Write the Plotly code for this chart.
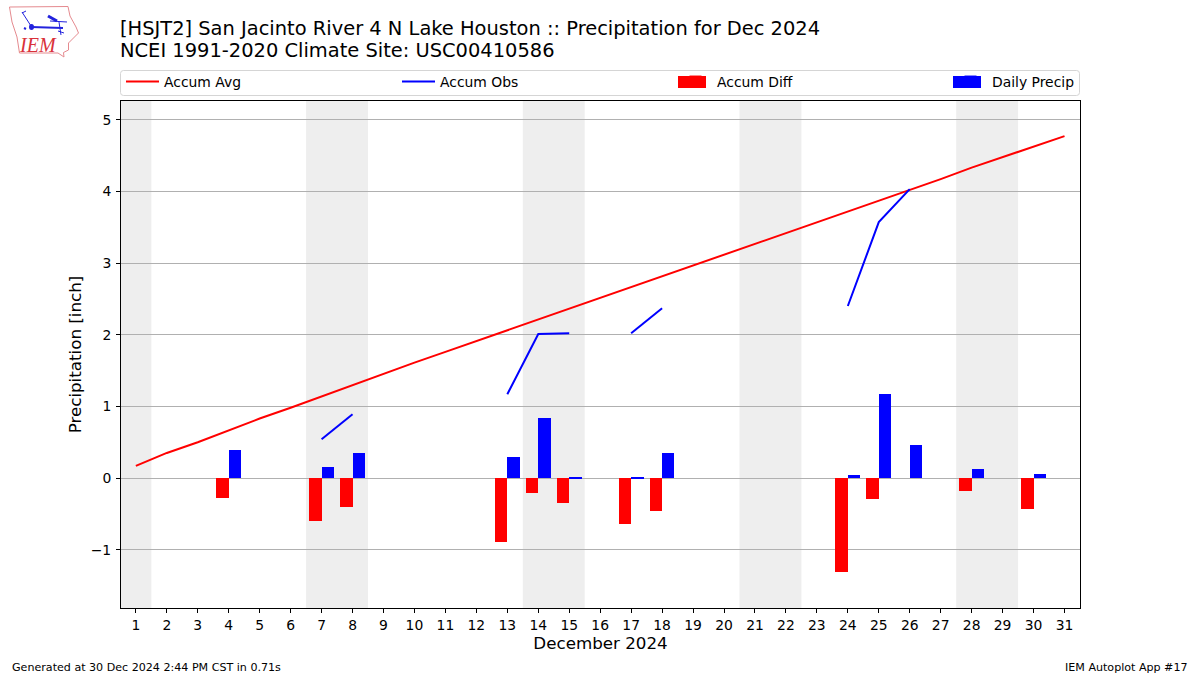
import plotly.graph_objects as go

FONT = "DejaVu Sans"
W, H = 1200, 675
L, R, T, B = 121, 1080, 101, 608

days = list(range(1, 32))
tick_labels = [str(d) for d in days]
accum_avg = [0.17, 0.35, 0.50, 0.67, 0.83, 0.98, 1.14, 1.30, 1.45, 1.61, 1.76, 1.91, 2.06, 2.22, 2.37, 2.52,
             2.67, 2.82, 2.97, 3.12, 3.26, 3.41, 3.56, 3.71, 3.87, 4.02, 4.17, 4.33, 4.48, 4.62, 4.77]
obs_days = [4, 7, 8, 13, 14, 15, 17, 18, 24, 25, 26, 28, 30]
accum_obs_values = [0.39, 0.54, 0.89, 1.17, 2.01, 2.02, 2.02, 2.37, 2.40, 3.57, 4.03, 4.15, 4.20]
accum_diff_values = [-0.275, -0.60, -0.41, -0.89, -0.205, -0.345, -0.64, -0.455, -1.31, -0.29, 0.0, -0.18, -0.43]
daily_precip = [0.39, 0.15, 0.35, 0.29, 0.84, 0.01, 0.01, 0.35, 0.04, 1.17, 0.46, 0.12, 0.05]
weekend_spans = [(0.5, 1.5), (6.5, 8.5), (13.5, 15.5), (20.5, 22.5), (27.5, 29.5)]

obs_lookup = dict(zip(obs_days, accum_obs_values))
accum_obs = [obs_lookup.get(d) for d in days]


def px(x):
    return (x - L) / (R - L)


def py(y):
    return (B - y) / (B - T)


def path(points, close=False):
    s = "M" + " L".join(f"{px(x):.5f},{py(y):.5f}" for x, y in points)
    return s + (" Z" if close else "")


def paper_shape(d, **kw):
    return dict(type="path", xref="paper", yref="paper", path=d, **kw)


fig = go.Figure()
fig.add_trace(go.Scatter(x=days, y=accum_avg, mode="lines", name="Accum Avg", legend="legend", showlegend=True,
                         line=dict(color="#ff0000", width=2)))
fig.add_trace(go.Scatter(x=days, y=accum_obs, mode="lines", name="Accum Obs", legend="legend2", showlegend=True,
                         line=dict(color="#0000ff", width=2), connectgaps=False))
fig.add_trace(go.Bar(x=obs_days, y=accum_diff_values, name="Accum Diff", width=0.4, offset=-0.4, legend="legend3",
                     showlegend=True, marker=dict(color="#ff0000", line=dict(width=0))))
fig.add_trace(go.Bar(x=obs_days, y=daily_precip, name="Daily Precip", width=0.4, offset=0, legend="legend4",
                     showlegend=True, marker=dict(color="#0000ff", line=dict(width=0))))

shapes = [dict(type="rect", xref="x", yref="paper", x0=a, x1=b, y0=0, y1=1, layer="below",
               fillcolor="#eeeeee", line=dict(width=0)) for a, b in weekend_spans]

# rounded legend frame
lx0, lx1, ly0, ly1, r = 120.5, 1079.5, 70.5, 95.5, 3
frame = (f"M{px(lx0 + r):.5f},{py(ly0):.5f} L{px(lx1 - r):.5f},{py(ly0):.5f} "
         f"Q{px(lx1):.5f},{py(ly0):.5f} {px(lx1):.5f},{py(ly0 + r):.5f} "
         f"L{px(lx1):.5f},{py(ly1 - r):.5f} Q{px(lx1):.5f},{py(ly1):.5f} {px(lx1 - r):.5f},{py(ly1):.5f} "
         f"L{px(lx0 + r):.5f},{py(ly1):.5f} Q{px(lx0):.5f},{py(ly1):.5f} {px(lx0):.5f},{py(ly1 - r):.5f} "
         f"L{px(lx0):.5f},{py(ly0 + r):.5f} Q{px(lx0):.5f},{py(ly0):.5f} {px(lx0 + r):.5f},{py(ly0):.5f} Z")
shapes.append(paper_shape(frame, line=dict(color="#d5d5d5", width=1), layer="above"))

# wide legend swatches for the two bar series
for x0, x1, colour in [(678, 706, "#ff0000"), (953, 981, "#0000ff")]:
    shapes.append(dict(type="rect", xref="paper", yref="paper", x0=px(x0), x1=px(x1), y0=py(88), y1=py(76),
                       fillcolor=colour, line=dict(width=0), layer="above"))

# IEM logo
iowa = [(9.5, 7), (68, 6.5), (70, 16), (76, 27), (78.5, 33), (68.5, 43), (68.5, 50), (63.5, 52.5),
        (64, 57), (58, 53), (19.5, 53), (17, 37), (12, 22)]
shapes.append(paper_shape(path(iowa, True), line=dict(color="#e58a8f", width=1), layer="above"))
blue = "#2222dd"
for pts, w in [([(31, 27), (63, 28)], 2), ([(22, 12), (31, 26)], 1), ([(48, 16), (57, 21)], 3),
               ([(50, 21), (67, 22)], 1), ([(59, 22), (61, 35)], 1), ([(58, 31), (64, 33)], 1),
               ([(22, 13), (26, 11)], 1), ([(24, 28), (26, 29)], 2)]:
    shapes.append(paper_shape(path(pts), line=dict(color=blue, width=w), layer="above"))
shapes.append(dict(type="circle", xref="paper", yref="paper", x0=px(29), x1=px(34), y0=py(24), y1=py(30),
                   fillcolor=blue, line=dict(width=0), layer="above"))


def note(text, x, y, anchor, size, family=FONT, colour="black"):
    return dict(text=text, xref="paper", yref="paper", x=px(x), y=py(y), xanchor=anchor, yanchor="middle",
                showarrow=False, borderpad=0, font=dict(family=family, size=size, color=colour))


annotations = [
    note("[HSJT2] San Jacinto River 4 N Lake Houston :: Precipitation for Dec 2024", 119, 29, "left", 19.45),
    note("NCEI 1991-2020 Climate Site: USC00410586", 119, 51, "left", 19.45),
    note("Generated at 30 Dec 2024 2:44 PM CST in 0.71s", 11, 667, "left", 11.1),
    note("IEM Autoplot App #17", 1189, 667, "right", 11.1),
    note("<i>IEM</i>", 37.5, 45, "center", 20, "Liberation Serif", "#d9313a"),
]


def legend_at(x):
    return dict(orientation="h", x=px(x), y=py(66), xanchor="left", yanchor="top", itemwidth=33,
                bgcolor="rgba(0,0,0,0)", font=dict(family=FONT, size=13.9),
                itemclick=False, itemdoubleclick=False, visible=True)


fig.update_layout(
    width=W, height=H, autosize=False, showlegend=True,
    margin=dict(l=L, r=W - R, t=T, b=H - B, pad=0),
    paper_bgcolor="white", plot_bgcolor="white",
    font=dict(family=FONT, size=13.9, color="black"),
    barmode="overlay", bargap=0,
    shapes=shapes, annotations=annotations,
    legend=legend_at(121), legend2=legend_at(397), legend3=legend_at(674), legend4=legend_at(949),
    xaxis=dict(range=[0.52, 31.5], tickmode="array", tickvals=days, ticktext=tick_labels,
               ticks="outside", ticklen=4, tickwidth=1, tickcolor="black", showgrid=False, zeroline=False,
               showline=True, linecolor="black", linewidth=1, mirror=True,
               title=dict(text="December 2024", font=dict(size=16.7), standoff=5),
               tickfont=dict(size=13.9), tickangle=0),
    yaxis=dict(range=[-1.813, 5.26], tickmode="array", tickvals=[-1, 0, 1, 2, 3, 4, 5],
               ticktext=["\u22121", "0", "1", "2", "3", "4", "5"],
               ticks="outside", ticklen=4, tickwidth=1, tickcolor="black", ticklabelstandoff=2,
               showgrid=True, gridcolor="#b0b0b0", gridwidth=1, zeroline=False,
               showline=True, linecolor="black", linewidth=1, mirror=True,
               title=dict(text="Precipitation [inch]", font=dict(size=16.7), standoff=4),
               tickfont=dict(size=13.9)),
)

fig.write_html("out.html", config=dict(displayModeBar=False),
               post_script="document.body.style.margin='0';document.documentElement.style.overflow='hidden';")
